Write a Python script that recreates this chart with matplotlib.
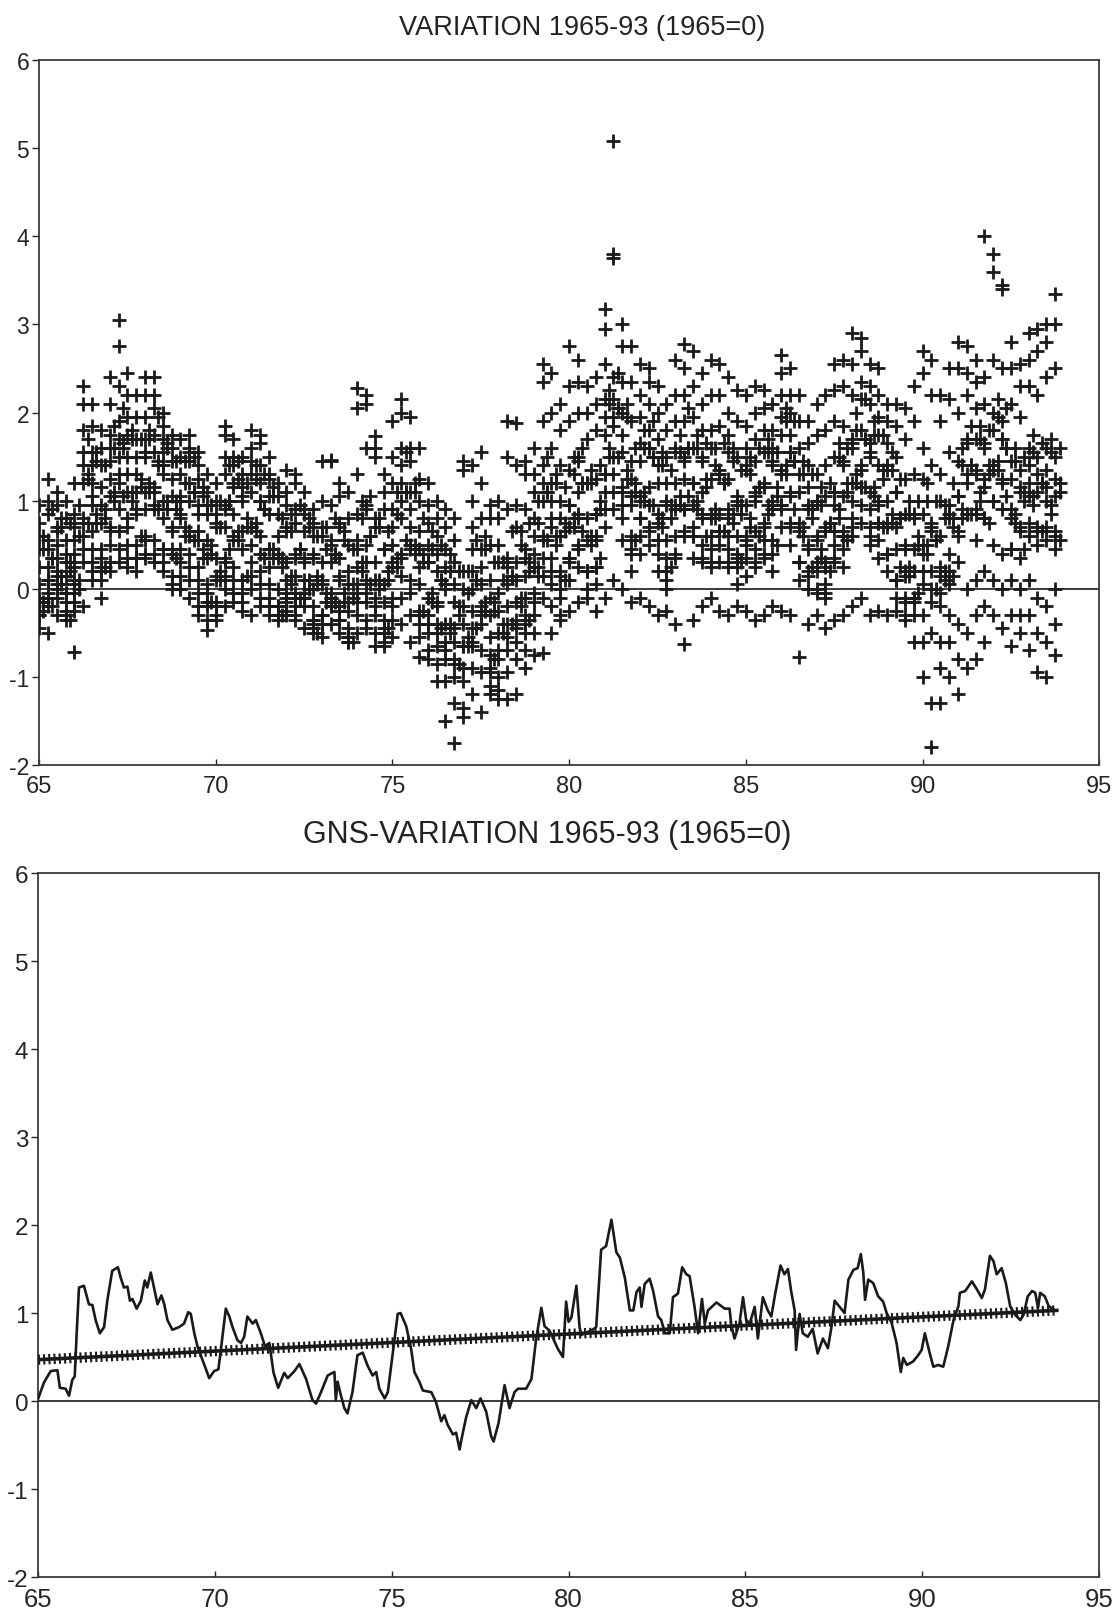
import numpy as np
import matplotlib
matplotlib.use('Agg')
import matplotlib.pyplot as plt

plt.rcParams['font.family'] = ['Liberation Sans', 'DejaVu Sans']
plt.rcParams['axes.unicode_minus'] = False

# ------------------------------------------------------------
# top panel: quarterly values per station
# stations a..l start at 1965.000, stations m..p at 1965.125
# ------------------------------------------------------------
T0, DT = 65.0, 0.25
T0_LATE = 65.125

st_a = [0.95, 1.25, 1.10, 1.00, 1.20, 2.30, 2.10, 1.80, 2.40, 3.05, 2.45, 2.20, 2.40, 2.20, 2.00, 1.75,
        1.70, 1.75, 1.55, 1.30, 1.20, 1.85, 1.70, 1.50, 1.80, 1.75, 1.50, 1.20, 1.35, 1.30, 1.10, 0.90,
        1.45, 1.45, 1.20, 1.10, 2.28, 2.20, 1.73, 1.30, 1.90, 2.15, 1.95, 1.60, 1.20, 1.00, 0.90, 0.80,
        1.45, 1.40, 1.55, 0.95, 1.00, 1.90, 1.88, 1.45, 1.60, 2.55, 2.45, 2.10, 2.75, 2.60, 2.30, 2.40,
        3.18, 5.08, 3.00, 2.75, 2.55, 2.50, 2.30, 2.10, 2.60, 2.78, 2.70, 2.45, 2.60, 2.55, 2.40, 2.25,
        2.20, 2.30, 2.25, 2.10, 2.65, 2.50, 2.20, 1.90, 2.10, 2.20, 2.55, 2.60, 2.90, 2.85, 2.55, 2.50,
        2.10, 2.10, 2.05, 2.30, 2.70, 2.60, 2.20, 2.50, 2.80, 2.75, 2.60, 4.00, 3.60, 3.45, 2.80, 2.55,
        2.90, 2.95, 3.00, 3.35]
st_b = [0.75, 1.00, 0.95, 0.80, 0.85, 2.10, 1.85, 1.60, 2.10, 2.75, 2.20, 1.95, 2.20, 2.40, 1.85, 1.60,
        1.50, 1.60, 1.40, 1.10, 1.00, 1.75, 1.50, 1.30, 1.60, 1.65, 1.30, 1.05, 1.10, 1.20, 0.90, 0.75,
        1.00, 1.46, 1.05, 0.80, 2.05, 2.10, 1.60, 1.10, 1.50, 2.00, 1.60, 1.25, 0.95, 0.80, 0.70, 0.55,
        1.35, 1.00, 1.20, 0.80, 0.80, 1.50, 1.40, 1.30, 1.30, 2.35, 2.00, 1.80, 2.30, 2.35, 2.00, 2.10,
        2.95, 3.80, 2.75, 2.35, 2.20, 2.35, 2.00, 1.80, 2.20, 2.50, 2.30, 2.10, 2.20, 2.20, 2.00, 1.90,
        1.85, 2.00, 2.05, 1.80, 2.45, 2.20, 1.90, 1.65, 1.75, 1.80, 2.25, 2.30, 2.55, 2.70, 2.30, 2.20,
        1.90, 1.85, 1.70, 1.90, 2.45, 2.20, 1.90, 2.15, 2.50, 2.45, 2.35, 2.40, 3.80, 3.40, 2.50, 2.30,
        2.60, 2.70, 2.80, 3.00]
st_c = [0.60, 0.85, 0.70, 0.55, 0.70, 1.80, 1.55, 1.40, 1.75, 2.30, 1.95, 1.70, 1.95, 2.05, 1.70, 1.45,
        1.30, 1.55, 1.25, 0.95, 0.85, 1.50, 1.40, 1.15, 1.45, 1.40, 1.25, 0.85, 0.95, 0.90, 0.85, 0.60,
        0.70, 0.95, 0.75, 0.50, 1.30, 1.60, 1.50, 0.90, 1.20, 1.60, 1.45, 1.00, 0.75, 0.60, 0.45, 0.30,
        0.20, 0.70, 0.80, 0.50, 0.50, 0.90, 0.95, 0.90, 1.10, 1.90, 1.60, 1.40, 1.90, 2.00, 1.70, 1.80,
        2.55, 3.75, 2.35, 1.90, 1.95, 2.10, 1.70, 1.50, 1.90, 2.20, 1.95, 1.80, 1.80, 1.85, 1.75, 1.50,
        1.60, 1.70, 1.80, 1.60, 2.20, 2.00, 1.60, 1.40, 1.30, 1.40, 1.90, 1.85, 2.20, 2.35, 2.10, 1.95,
        1.65, 1.50, 1.25, 1.30, 1.60, 1.40, 1.30, 1.55, 2.00, 2.20, 2.05, 2.10, 2.60, 2.50, 2.10, 1.95,
        2.30, 2.20, 2.40, 2.50]
st_d = [0.45, 0.55, 0.65, 0.40, 0.55, 1.55, 1.40, 1.15, 1.60, 1.90, 1.75, 1.50, 1.70, 1.75, 1.55, 1.25,
        1.05, 1.45, 0.95, 0.85, 0.70, 1.30, 1.20, 1.05, 1.30, 1.20, 1.05, 0.60, 0.70, 0.75, 0.65, 0.40,
        0.60, 0.55, 0.70, 0.20, 0.85, 0.95, 0.70, 0.45, 0.90, 1.40, 1.10, 0.65, 0.50, 0.40, 0.25, 0.05,
        0.00, 0.45, 0.45, 0.10, 0.30, 0.35, 0.70, 0.45, 0.80, 1.40, 1.20, 1.00, 1.35, 1.50, 1.20, 1.25,
        2.15, 2.40, 2.00, 1.45, 1.65, 1.80, 1.40, 1.20, 1.60, 1.90, 1.60, 1.50, 1.60, 1.35, 1.55, 1.05,
        1.35, 1.45, 1.55, 1.40, 1.95, 1.75, 1.30, 1.15, 1.00, 1.05, 1.50, 1.45, 1.70, 2.15, 1.65, 1.75,
        1.40, 1.10, 0.85, 0.85, 1.25, 0.75, 1.00, 0.95, 1.45, 1.70, 1.70, 1.65, 2.00, 1.90, 1.45, 1.35,
        1.60, 1.50, 1.60, 1.50]
st_e = [0.25, 0.45, 0.50, 0.30, 0.40, 1.40, 1.20, 0.95, 1.45, 1.70, 1.50, 1.30, 1.50, 1.55, 1.40, 1.05,
        1.00, 1.20, 0.85, 0.55, 0.75, 0.95, 1.15, 1.00, 1.10, 1.00, 0.85, 0.40, 0.65, 0.40, 0.35, 0.35,
        0.30, 0.50, 0.35, 0.05, 0.55, 0.90, 0.80, 0.45, 0.70, 1.20, 0.90, 0.45, 0.30, 0.20, 0.00, -0.15,
        -0.20, 0.20, 0.25, -0.10, -0.05, 0.25, 0.30, 0.35, 0.60, 1.20, 1.00, 0.80, 0.95, 1.45, 1.20, 0.85,
        1.95, 2.15, 1.75, 1.25, 1.45, 1.60, 1.20, 1.00, 1.55, 1.45, 1.20, 1.45, 1.25, 1.30, 1.25, 1.00,
        1.40, 1.10, 1.20, 1.45, 1.75, 1.55, 1.10, 0.95, 1.00, 0.70, 1.10, 1.40, 1.65, 1.80, 1.55, 1.40,
        1.35, 1.10, 0.50, 0.80, 0.85, 0.65, 0.60, 0.85, 1.05, 1.65, 1.35, 1.60, 1.80, 1.70, 1.25, 1.15,
        1.40, 1.30, 1.35, 1.25]
st_f = [0.05, 0.25, 0.35, 0.15, 0.25, 1.20, 1.05, 0.75, 1.25, 1.50, 1.30, 1.10, 1.55, 1.10, 1.30, 0.70,
        0.85, 1.00, 0.65, 0.35, 0.35, 0.90, 0.85, 0.65, 0.70, 1.00, 0.45, 0.35, 0.30, 0.35, 0.30, 0.00,
        0.10, 0.30, 0.15, -0.15, 0.45, 0.50, 0.30, 0.05, 0.50, 1.00, 0.70, 0.25, 0.30, -0.15, 0.05, -0.45,
        -0.40, 0.00, 0.05, -0.30, -0.25, 0.05, 0.10, 0.15, 0.40, 1.00, 0.80, 0.60, 0.95, 1.10, 0.80, 0.85,
        1.75, 1.95, 1.55, 1.05, 1.05, 1.60, 0.85, 0.95, 1.20, 1.50, 1.20, 1.10, 0.85, 1.30, 0.90, 0.95,
        0.95, 1.05, 1.15, 1.00, 1.35, 1.55, 0.75, 0.90, 0.60, 0.65, 1.10, 1.05, 1.60, 1.40, 1.50, 1.00,
        1.00, 0.70, 0.45, 0.45, 0.50, 0.70, 0.25, 0.80, 1.05, 1.30, 1.30, 1.25, 1.40, 1.70, 0.90, 1.10,
        1.20, 1.10, 1.15, 1.05]
st_g = [-0.15, 0.10, 0.20, -0.05, 0.05, 0.80, 0.95, 0.45, 1.05, 1.30, 1.10, 0.90, 1.10, 1.15, 1.00, 0.65,
        0.80, 0.65, 0.55, 0.05, 0.15, 0.70, 0.60, 0.45, 0.70, 0.60, 0.45, 0.00, 0.10, 0.15, 0.10, -0.20,
        0.05, -0.05, 0.10, -0.25, 0.25, 0.30, 0.10, -0.15, 0.30, 0.80, 0.50, 0.05, -0.10, -0.20, -0.40, -0.60,
        -0.65, -0.25, -0.20, -0.55, -0.50, -0.20, -0.15, -0.10, 0.25, 0.60, 0.70, 0.20, 0.70, 0.85, 0.55, 0.60,
        1.30, 1.85, 1.15, 0.95, 1.00, 1.15, 0.75, 0.55, 0.95, 1.25, 0.95, 0.85, 0.80, 0.85, 0.80, 0.60,
        0.60, 1.00, 0.75, 0.90, 1.30, 1.10, 0.65, 0.50, 0.55, 0.30, 0.95, 0.65, 1.20, 1.35, 1.10, 0.95,
        0.75, 0.45, 0.20, 0.20, 0.40, 0.20, 0.15, 0.40, 0.65, 1.20, 0.90, 1.15, 1.35, 1.25, 0.80, 0.70,
        1.05, 0.70, 1.00, 0.65]
st_h = [-0.30, -0.10, 0.00, -0.25, -0.15, 0.75, 0.65, 0.35, 0.70, 1.20, 0.80, 0.85, 0.90, 0.95, 0.80, 0.45,
        0.45, 0.60, 0.25, -0.05, 0.10, 0.35, 0.55, 0.10, 0.50, 0.40, 0.25, -0.20, -0.10, -0.05, -0.10, -0.40,
        -0.30, -0.10, -0.25, -0.55, 0.05, 0.10, -0.10, -0.35, 0.25, 0.40, 0.45, -0.25, -0.30, -0.40, -0.60, -0.80,
        -0.90, -0.45, -0.40, -0.75, -0.70, -0.40, -0.35, -0.30, -0.05, 0.55, 0.35, 0.15, 0.35, 0.80, 0.20, 0.55,
        1.30, 1.50, 1.10, 0.60, 0.80, 0.95, 0.55, 0.35, 0.90, 0.90, 0.60, 0.80, 0.60, 0.65, 0.60, 0.40,
        0.55, 0.65, 0.70, 0.55, 0.95, 1.05, 0.30, 0.45, 0.20, 0.25, 0.65, 0.60, 1.00, 1.15, 0.90, 0.75,
        0.70, 0.10, 0.15, -0.10, 0.20, 0.00, -0.05, 0.20, 0.60, 0.85, 0.85, 0.80, 1.00, 1.20, 0.45, 0.65,
        0.75, 0.65, 0.70, 0.60]
st_i = [-0.10, 0.10, 0.15, -0.05, 0.10, 0.60, 0.45, 0.20, 0.65, 0.90, 0.70, 0.50, 0.60, 0.90, 0.45, 0.40,
        0.30, 0.40, 0.10, -0.15, -0.15, 0.30, 0.25, 0.10, 0.30, 0.20, 0.05, -0.30, -0.05, -0.30, -0.05, -0.35,
        -0.40, -0.20, -0.35, -0.60, -0.05, -0.05, -0.20, -0.45, -0.10, 0.35, 0.10, -0.30, -0.40, -0.50, -0.70, -0.85,
        -0.65, -0.60, -0.30, -0.90, -0.80, -0.55, -0.45, -0.40, -0.15, 0.35, 0.20, 0.00, 0.35, 0.50, 0.20, 0.25,
        1.10, 1.30, 0.95, 0.45, 0.80, 0.65, 0.55, 0.10, 0.60, 0.90, 0.60, 0.50, 0.30, 0.65, 0.30, 0.35,
        0.35, 0.45, 0.55, 0.40, 0.95, 0.75, 0.30, 0.15, 0.00, 0.05, 0.50, 0.45, 0.70, 1.15, 0.60, 0.75,
        0.40, 0.10, -0.15, -0.15, 0.05, -0.15, -0.20, 0.05, 0.30, 0.85, 0.55, 0.80, 1.00, 0.90, 0.45, 0.35,
        0.60, 0.50, 0.55, 0.45]
st_j = [-0.15, -0.05, 0.05, -0.15, -0.05, 0.45, 0.30, 0.10, 0.50, 0.65, 0.50, 0.35, 0.55, 0.55, 0.45, 0.15,
        0.15, 0.25, -0.05, -0.20, -0.20, 0.15, 0.10, -0.05, 0.15, 0.05, -0.10, -0.20, -0.15, -0.10, -0.10, -0.35,
        -0.30, -0.10, -0.20, -0.45, -0.15, -0.15, -0.30, -0.50, -0.20, 0.15, -0.05, -0.40, -0.50, -0.65, -0.80, -1.00,
        -1.05, -0.65, -0.70, -0.95, -1.00, -0.70, -0.60, -0.50, -0.30, 0.15, 0.05, -0.10, 0.30, 0.45, 0.20, 0.25,
        0.90, 1.10, 0.80, 0.40, 0.60, 0.70, 0.40, 0.20, 0.40, 0.65, 0.70, 0.35, 0.45, 0.50, 0.45, 0.25,
        0.50, 0.30, 0.40, 0.55, 0.90, 0.70, 0.30, 0.20, 0.30, -0.05, 0.35, 0.60, 0.80, 0.95, 0.70, 0.55,
        0.40, 0.10, -0.10, -0.10, -0.30, -0.50, -0.60, -0.30, -0.40, 0.00, 0.10, 0.20, 0.50, 0.40, 0.10, 0.00,
        0.10, -0.10, -0.20, 0.00]
st_k = [-0.30, -0.20, -0.10, -0.30, -0.25, 0.30, 0.10, -0.10, 0.30, 0.45, 0.35, 0.20, 0.35, 0.40, 0.30, 0.00,
        0.00, 0.10, -0.20, -0.35, -0.30, 0.00, -0.05, -0.15, 0.00, -0.10, -0.20, -0.30, -0.25, -0.20, -0.20, -0.45,
        -0.40, -0.20, -0.35, -0.55, -0.30, -0.35, -0.50, -0.65, -0.35, -0.10, -0.30, -0.55, -0.70, -0.85, -1.05, -1.30,
        -1.35, -0.90, -0.95, -1.20, -1.25, -0.95, -0.80, -0.70, -0.50, -0.10, -0.20, -0.35, 0.10, 0.25, 0.00, 0.05,
        0.70, 0.90, 0.55, 0.20, 0.40, 0.50, 0.20, 0.00, 0.35, 0.60, 0.35, 0.30, 0.25, 0.30, 0.25, 0.05,
        0.15, 0.25, 0.35, 0.20, 0.70, 0.50, 0.10, 0.00, -0.05, -0.10, 0.30, 0.25, 0.60, 0.75, 0.50, 0.35,
        0.20, -0.10, -0.30, -0.30, -0.60, -1.30, -0.90, -0.60, -0.80, -0.50, -0.30, -0.20, 0.10, 0.00, -0.30, -0.30,
        -0.30, -0.50, -0.60, -0.40]
st_l = [-0.45, -0.50, -0.30, -0.35, -0.72, -0.20, 0.20, 0.25, 0.20, 0.30, 0.25, 0.35, 0.40, 0.30, 0.20, 0.05,
        0.00, -0.10, -0.30, -0.47, -0.35, -0.20, -0.15, -0.25, -0.30, -0.20, -0.30, -0.36, -0.30, -0.35, -0.45, -0.50,
        -0.55, -0.40, -0.50, -0.60, -0.50, -0.45, -0.65, -0.60, -0.55, -0.40, -0.60, -0.78, -0.80, -1.05, -1.50, -1.75,
        -1.45, -1.20, -1.40, -1.10, -1.15, -1.25, -1.20, -0.90, -0.75, -0.73, -0.50, -0.30, -0.25, -0.15, -0.10, -0.25,
        -0.10, 0.10, 0.00, -0.15, -0.10, -0.20, -0.30, -0.25, -0.40, -0.63, -0.35, -0.20, -0.10, -0.25, -0.30, -0.20,
        -0.25, -0.35, -0.30, -0.20, -0.25, -0.30, -0.78, -0.40, -0.30, -0.45, -0.35, -0.30, -0.20, -0.10, -0.30, -0.25,
        -0.30, -0.25, -0.35, -0.60, -1.00, -1.80, -1.30, -1.00, -1.20, -0.90, -0.80, -0.60, -0.30, -0.45, -0.65, -0.50,
        -0.70, -0.95, -1.00, -0.75]
st_m = [0.60, 0.90, 0.80, 0.75, 0.95, 1.70, 1.55, 1.40, 1.85, 2.05, 1.80, 1.70, 1.80, 1.95, 1.65, 1.45,
        1.45, 1.50, 1.15, 0.95, 1.00, 1.40, 1.45, 1.20, 1.40, 1.30, 1.15, 0.80, 0.85, 0.95, 0.80, 0.60,
        0.70, 0.80, 0.65, 0.45, 1.00, 1.05, 0.80, 0.65, 1.10, 1.55, 1.20, 0.80, 0.65, 0.50, 0.40, 0.20,
        0.20, 0.55, 0.60, 0.30, 0.30, 0.65, 0.65, 0.75, 1.00, 1.50, 1.30, 1.15, 1.50, 1.60, 1.35, 1.40,
        2.25, 2.45, 2.10, 1.60, 1.80, 1.90, 1.55, 1.35, 1.75, 2.05, 1.75, 1.65, 1.60, 1.65, 1.60, 1.35,
        1.50, 1.60, 1.70, 1.55, 2.05, 1.90, 1.45, 1.30, 1.15, 1.20, 1.65, 1.60, 2.00, 2.15, 1.90, 1.75,
        1.55, 1.25, 1.00, 1.00, 1.20, 1.00, 0.95, 1.20, 1.60, 1.85, 1.85, 1.80, 2.15, 2.05, 1.60, 1.50,
        1.75, 1.65, 1.70, 1.60]
st_n = [0.45, 0.35, 0.70, 0.30, 0.60, 1.25, 1.45, 0.90, 1.60, 1.65, 1.70, 1.25, 1.70, 1.40, 1.60, 1.00,
        1.20, 1.10, 1.05, 0.50, 0.70, 1.00, 1.25, 0.80, 1.25, 0.90, 1.05, 0.35, 0.65, 0.45, 0.70, 0.15,
        0.45, 0.40, 0.55, 0.05, 0.80, 0.60, 0.70, 0.20, 0.85, 1.10, 1.10, 0.40, 0.45, 0.10, 0.20, -0.20,
        -0.05, 0.10, 0.45, -0.15, 0.10, 0.15, 0.50, 0.30, 0.75, 1.10, 1.20, 0.75, 1.30, 1.20, 1.20, 1.00,
        2.10, 2.05, 1.95, 1.20, 1.60, 1.50, 1.40, 0.95, 1.55, 1.60, 1.60, 1.25, 1.40, 1.20, 1.45, 0.95,
        1.30, 1.15, 1.55, 1.15, 1.90, 1.45, 1.30, 0.90, 0.95, 0.75, 1.50, 1.20, 1.80, 1.70, 1.75, 1.35,
        1.35, 0.80, 0.85, 0.60, 1.00, 0.55, 0.80, 0.80, 1.40, 1.40, 1.70, 1.40, 1.95, 1.60, 1.45, 1.10,
        1.55, 1.20, 1.55, 1.20]
st_o = [-0.15, 0.35, 0.15, 0.20, 0.10, 1.30, 0.85, 0.80, 1.10, 1.60, 1.10, 1.15, 1.20, 1.45, 1.00, 0.90,
        0.70, 1.10, 0.45, 0.40, 0.20, 1.00, 0.65, 0.70, 0.75, 0.90, 0.45, 0.25, 0.15, 0.45, 0.10, 0.05,
        -0.05, 0.40, -0.05, -0.10, 0.30, 0.60, 0.10, 0.10, 0.35, 1.10, 0.50, 0.30, -0.05, 0.10, -0.40, -0.30,
        -0.55, 0.10, -0.15, -0.25, -0.40, 0.15, -0.10, 0.20, 0.25, 1.10, 0.60, 0.65, 0.80, 1.20, 0.60, 0.90,
        1.60, 2.05, 1.35, 1.10, 1.10, 1.50, 0.80, 0.80, 1.05, 1.60, 1.00, 1.15, 0.90, 1.20, 0.85, 0.85,
        0.80, 1.15, 0.95, 1.05, 1.40, 1.45, 0.70, 0.80, 0.45, 0.75, 0.90, 1.10, 1.30, 1.70, 1.15, 1.25,
        0.85, 0.80, 0.25, 0.50, 0.50, 0.55, 0.20, 0.70, 0.90, 1.40, 1.10, 1.30, 1.45, 1.60, 0.85, 1.00,
        1.05, 1.20, 0.95, 1.10]
st_p = [-0.25, -0.20, 0.05, -0.35, 0.00, 0.75, 0.75, 0.25, 1.00, 1.05, 1.00, 0.60, 1.10, 0.90, 0.90, 0.35,
        0.60, 0.55, 0.35, -0.15, 0.10, 0.45, 0.55, 0.15, 0.65, 0.35, 0.35, -0.30, 0.05, -0.10, 0.00, -0.50,
        -0.15, -0.15, -0.15, -0.60, 0.20, 0.05, 0.00, -0.45, 0.25, 0.55, 0.40, -0.25, -0.15, -0.45, -0.50, -0.85,
        -0.65, -0.45, -0.25, -0.80, -0.50, -0.40, -0.20, -0.35, 0.15, 0.55, 0.50, 0.10, 0.70, 0.65, 0.50, 0.35,
        1.50, 1.50, 1.25, 0.55, 1.00, 0.95, 0.70, 0.25, 0.95, 1.05, 0.90, 0.60, 0.80, 0.65, 0.75, 0.30,
        0.70, 0.60, 0.85, 0.50, 1.30, 0.90, 0.60, 0.25, 0.35, 0.20, 0.80, 0.55, 1.20, 1.15, 1.05, 0.70,
        0.75, 0.25, 0.15, -0.05, 0.40, 0.00, 0.10, 0.15, 0.80, 0.85, 1.00, 0.75, 1.35, 1.05, 0.75, 0.45,
        0.95, 0.65, 0.85, 0.55]

stations = [st_a, st_b, st_c, st_d, st_e, st_f, st_g, st_h, st_i, st_j, st_k, st_l]
stations_late = [st_m, st_n, st_o, st_p]

# ------------------------------------------------------------
# bottom panel: average (traced) and its linear trend
# ------------------------------------------------------------
gns_year = [65.00, 65.17, 65.36, 65.55, 65.62, 65.78, 65.88, 65.97, 66.04, 66.09,
            66.16, 66.30, 66.44, 66.54, 66.63, 66.75, 66.87, 66.96, 67.10, 67.26,
            67.34, 67.43, 67.53, 67.60, 67.67, 67.79, 67.91, 68.02, 68.09, 68.19,
            68.28, 68.38, 68.49, 68.57, 68.66, 68.80, 68.99, 69.13, 69.25, 69.32,
            69.42, 69.51, 69.65, 69.75, 69.84, 69.98, 70.10, 70.17, 70.31, 70.41,
            70.50, 70.64, 70.74, 70.83, 70.92, 71.07, 71.16, 71.30, 71.42, 71.54,
            71.66, 71.79, 71.96, 72.06, 72.25, 72.39, 72.58, 72.76, 72.86, 73.00,
            73.19, 73.28, 73.38, 73.42, 73.47, 73.56, 73.66, 73.75, 73.89, 74.03,
            74.18, 74.32, 74.46, 74.56, 74.65, 74.80, 74.89, 75.03, 75.17, 75.25,
            75.41, 75.55, 75.64, 75.78, 75.88, 76.12, 76.25, 76.40, 76.49, 76.58,
            76.73, 76.82, 76.92, 76.96, 77.10, 77.25, 77.39, 77.51, 77.67, 77.81,
            77.88, 78.02, 78.19, 78.33, 78.47, 78.57, 78.80, 78.95, 79.08, 79.23,
            79.32, 79.46, 79.61, 79.70, 79.84, 79.93, 80.00, 80.08, 80.22, 80.31,
            80.36, 80.45, 80.64, 80.78, 80.92, 81.06, 81.21, 81.35, 81.45, 81.59,
            81.73, 81.83, 81.92, 82.01, 82.06, 82.15, 82.29, 82.39, 82.53, 82.62,
            82.72, 82.86, 82.95, 83.09, 83.21, 83.33, 83.42, 83.56, 83.66, 83.77,
            83.85, 83.94, 84.18, 84.41, 84.55, 84.60, 84.69, 84.83, 84.93, 85.02,
            85.12, 85.26, 85.35, 85.49, 85.63, 85.73, 85.84, 85.99, 86.10, 86.20,
            86.29, 86.39, 86.43, 86.53, 86.62, 86.76, 86.90, 87.04, 87.19, 87.33,
            87.43, 87.52, 87.66, 87.80, 87.91, 88.05, 88.17, 88.26, 88.33, 88.38,
            88.47, 88.61, 88.75, 88.89, 88.99, 89.13, 89.27, 89.39, 89.46, 89.56,
            89.74, 89.88, 89.98, 90.07, 90.21, 90.31, 90.45, 90.59, 90.73, 90.88,
            91.02, 91.06, 91.21, 91.40, 91.54, 91.68, 91.77, 91.91, 92.01, 92.10,
            92.24, 92.36, 92.48, 92.62, 92.77, 92.86, 92.98, 93.10, 93.19, 93.27,
            93.33, 93.46, 93.57, 93.71]
gns_value = [0.02, 0.21, 0.34, 0.35, 0.15, 0.14, 0.06, 0.24, 0.28, 0.73,
             1.29, 1.31, 1.10, 1.09, 0.92, 0.77, 0.84, 1.14, 1.48, 1.52,
             1.40, 1.29, 1.30, 1.14, 1.16, 1.05, 1.14, 1.37, 1.29, 1.46,
             1.29, 1.10, 1.20, 1.10, 0.92, 0.81, 0.84, 0.88, 1.01, 0.99,
             0.77, 0.62, 0.47, 0.36, 0.26, 0.34, 0.36, 0.58, 1.05, 0.96,
             0.84, 0.69, 0.66, 0.73, 0.96, 0.88, 0.92, 0.77, 0.62, 0.66,
             0.32, 0.15, 0.32, 0.26, 0.34, 0.42, 0.25, 0.01, -0.03, 0.10,
             0.29, 0.31, 0.33, 0.01, 0.22, 0.07, -0.08, -0.14, 0.10, 0.52,
             0.55, 0.40, 0.29, 0.33, 0.14, 0.03, 0.10, 0.55, 0.99, 1.00,
             0.85, 0.59, 0.33, 0.22, 0.12, 0.10, -0.01, -0.23, -0.16, -0.27,
             -0.38, -0.36, -0.55, -0.46, -0.19, 0.01, -0.08, 0.03, -0.12, -0.40,
             -0.46, -0.25, 0.18, -0.08, 0.10, 0.14, 0.14, 0.25, 0.70, 1.06,
             0.85, 0.80, 0.67, 0.59, 0.50, 1.13, 0.90, 0.95, 1.31, 0.84,
             0.75, 0.77, 0.80, 0.84, 1.72, 1.76, 2.06, 1.69, 1.63, 1.40,
             1.03, 1.03, 1.24, 1.29, 1.07, 1.33, 1.39, 1.25, 0.96, 0.92,
             0.77, 0.77, 1.18, 1.22, 1.52, 1.44, 1.42, 1.07, 0.77, 1.16,
             0.88, 1.03, 1.12, 1.05, 1.05, 0.86, 0.71, 0.88, 1.18, 0.92,
             0.88, 1.07, 0.71, 1.18, 1.03, 0.96, 1.22, 1.54, 1.44, 1.50,
             1.25, 1.03, 0.58, 0.99, 0.77, 0.73, 0.82, 0.54, 0.71, 0.60,
             0.84, 1.14, 1.07, 1.00, 1.38, 1.49, 1.51, 1.67, 1.46, 1.15,
             1.38, 1.34, 1.19, 1.13, 1.00, 0.89, 0.66, 0.33, 0.49, 0.41,
             0.45, 0.52, 0.58, 0.77, 0.54, 0.39, 0.41, 0.39, 0.62, 0.92,
             1.08, 1.23, 1.25, 1.36, 1.27, 1.17, 1.27, 1.65, 1.59, 1.44,
             1.51, 1.34, 1.08, 0.98, 0.92, 0.98, 1.19, 1.25, 1.23, 1.06,
             1.23, 1.19, 1.08, 1.04]
trend_year = [65.0, 93.8]
trend_value = [0.47, 1.03]

XTICKS = [65, 70, 75, 80, 85, 90, 95]
YTICKS = [-2, -1, 0, 1, 2, 3, 4, 5, 6]
INK = '#1a1a1a'


def style_axes(ax, xsize, ysize):
    ax.set_xlim(65, 95)
    ax.set_ylim(-2, 6)
    ax.set_xticks(XTICKS)
    ax.set_yticks(YTICKS)
    ax.tick_params(axis='x', direction='in', length=4, width=1, pad=7,
                   labelsize=xsize, colors='#262626')
    ax.tick_params(axis='y', direction='out', length=5, width=1, pad=2,
                   labelsize=ysize, colors='#262626')
    for sp in ax.spines.values():
        sp.set_linewidth(1.3)
        sp.set_color('#3a3a3a')
    ax.axhline(0, color=INK, lw=1.2, zorder=1)


fig = plt.figure(figsize=(11.16, 16.15), dpi=100)

# ---- top: every station as crosses
ax1 = fig.add_axes([0.035, 0.5257, 0.950, 0.4365])
style_axes(ax1, 17, 16.5)
for start, group in ((T0, stations), (T0_LATE, stations_late)):
    for s in group:
        t = start + DT * np.arange(len(s))
        ax1.plot(t, s, ls='none', marker='+', ms=10, mew=2.0, color=INK, zorder=3)
fig.text(0.522, 0.9827, 'VARIATION 1965-93 (1965=0)', ha='center', va='center',
         fontsize=19.5, color='#222222')

# ---- bottom: average curve and trend
ax2 = fig.add_axes([0.034, 0.0229, 0.951, 0.4359])
style_axes(ax2, 18.5, 17.5)
ax2.plot(gns_year, gns_value, color=INK, lw=1.9, zorder=3)
ax2.plot(trend_year, trend_value, color=INK, lw=2.6, zorder=4)
ax2.plot(trend_year, trend_value, color=INK, lw=7.5, dashes=(0.2, 0.3), zorder=4)
fig.text(0.490, 0.483, 'GNS-VARIATION 1965-93 (1965=0)', ha='center', va='center',
         fontsize=22, color='#222222')

fig.savefig('out.png', dpi=100, facecolor='white')
